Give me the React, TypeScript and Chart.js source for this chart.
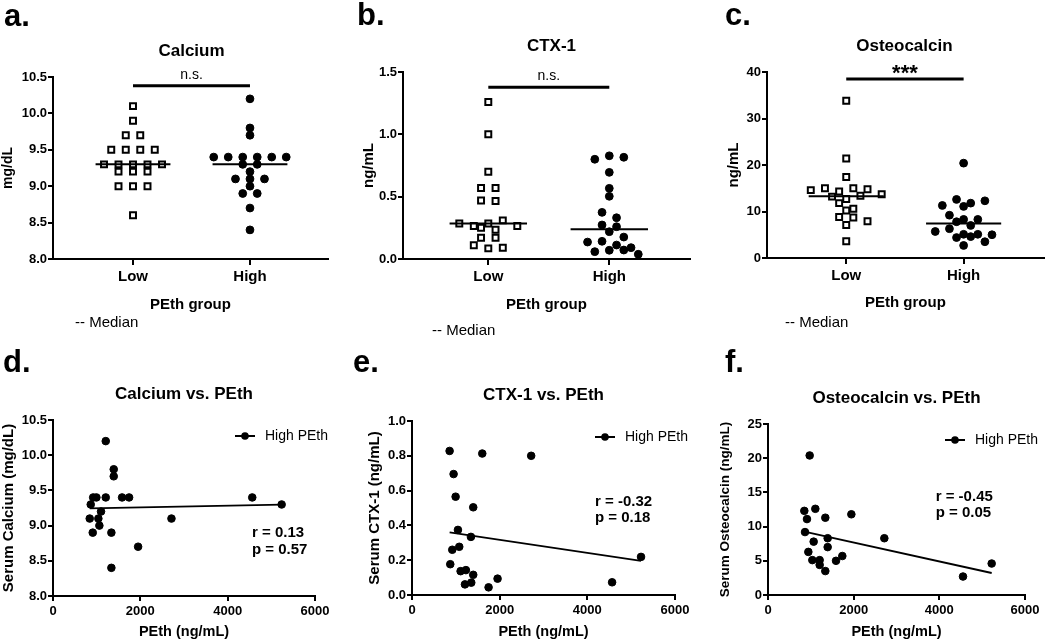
import React, { useEffect, useRef } from "react";
import { Chart, registerables } from "chart.js";

Chart.register(...registerables);

const FONT = "'Liberation Sans', Arial, Helvetica, sans-serif";
Chart.defaults.font.family = FONT;
Chart.defaults.color = "#000";

// ---------------- data ----------------
const groupLabels = ["Low", "High"];
const groupAxisTitle = "PEth group";
const medianNote = "-- Median";
const legendLabel = "High PEth";
const pethAxisTitle = "PEth (ng/mL)";

// a. Calcium (mg/dL) by PEth group
const calciumLow = [10.1, 9.9, 9.7, 9.7, 9.5, 9.5, 9.5, 9.5, 9.3, 9.3, 9.3, 9.3, 9.3, 9.2, 9.2, 9.2, 9.0, 9.0, 9.0, 8.6];
const calciumHigh = [10.2, 9.8, 9.7, 9.4, 9.4, 9.4, 9.4, 9.4, 9.4, 9.3, 9.3, 9.2, 9.1, 9.1, 9.1, 9.0, 8.9, 8.9, 8.7, 8.4];
// b. CTX-1 (ng/mL) by PEth group
const ctx1Low = [1.26, 1.0, 0.7, 0.57, 0.57, 0.47, 0.465, 0.25, 0.285, 0.265, 0.285, 0.31, 0.235, 0.265, 0.17, 0.17, 0.11, 0.085, 0.09];
const ctx1High = [0.8, 0.828, 0.816, 0.695, 0.567, 0.503, 0.374, 0.331, 0.273, 0.259, 0.219, 0.176, 0.136, 0.142, 0.112, 0.059, 0.091, 0.07, 0.072, 0.038];
// c. Osteocalcin (ng/mL) by PEth group
const osteoLow = [33.8, 21.4, 17.4, 14.6, 15.0, 14.3, 15.0, 14.8, 13.2, 13.7, 12.7, 13.4, 11.8, 10.6, 10.2, 8.8, 8.7, 7.9, 7.1, 3.6];
const osteoHigh = [20.4, 11.3, 12.6, 11.8, 12.3, 11.1, 9.2, 8.3, 7.8, 8.3, 7.0, 5.7, 6.3, 5.1, 5.1, 5.0, 4.4, 4.6, 3.5, 2.7];

// d. Calcium vs PEth (high PEth group)
const dPEth = [1208, 1391, 1391, 920, 994, 1208, 1582, 1743, 4563, 864, 5236, 1100, 841, 1039, 2713, 1062, 910, 1337, 1949, 1337];
const dCalcium = [10.2, 9.8, 9.7, 9.4, 9.4, 9.4, 9.4, 9.4, 9.4, 9.3, 9.3, 9.2, 9.1, 9.1, 9.1, 9.0, 8.9, 8.9, 8.7, 8.4];
// e. CTX-1 vs PEth
const ePEth = [858, 1603, 2719, 949, 995, 1397, 1048, 1344, 919, 1078, 5225, 873, 1109, 1230, 1397, 1208, 1352, 1952, 1747, 4565];
const eCTX1 = [0.828, 0.813, 0.8, 0.695, 0.565, 0.504, 0.374, 0.334, 0.26, 0.277, 0.219, 0.177, 0.137, 0.143, 0.116, 0.061, 0.071, 0.094, 0.044, 0.073];
// f. Osteocalcin vs PEth
const fPEth = [973, 848, 1105, 910, 1338, 1946, 864, 2716, 1393, 1066, 1393, 942, 1735, 1035, 1206, 1588, 1206, 5222, 1338, 4553];
const fOsteo = [20.4, 12.3, 12.6, 11.1, 11.3, 11.8, 9.2, 8.3, 8.3, 7.8, 7.0, 6.3, 5.7, 5.1, 5.1, 5.0, 4.4, 4.6, 3.5, 2.7];

// statistics text
const sigLabels = ["n.s.", "n.s.", "***"];
const sigLevels = [10.38, 1.377, 38.5];
const corrR = ["r = 0.13", "r = -0.32", "r = -0.45"];
const corrP = ["p = 0.57", "p = 0.18", "p = 0.05"];

// ---------------- helpers ----------------
function median(v: number[]) {
  const s = [...v].sort((a, b) => a - b);
  const n = s.length;
  return n % 2 ? s[(n - 1) / 2] : (s[n / 2 - 1] + s[n / 2]) / 2;
}

function fitLine(xs: number[], ys: number[]) {
  const n = xs.length;
  const mx = xs.reduce((a, b) => a + b, 0) / n;
  const my = ys.reduce((a, b) => a + b, 0) / n;
  let sxy = 0, sxx = 0;
  for (let i = 0; i < n; i++) {
    sxy += (xs[i] - mx) * (ys[i] - my);
    sxx += (xs[i] - mx) * (xs[i] - mx);
  }
  const m = sxy / sxx;
  const b = my - m * mx;
  const x0 = Math.min(...xs), x1 = Math.max(...xs);
  return [{ x: x0, y: b + m * x0 }, { x: x1, y: b + m * x1 }];
}

// scatter-dot-plot (column) spreading: rows of near-equal values spread symmetrically
function swarmX(values: number[], center: number, xPx: number, yPx: number, slot = 14.5, dot = 7, rowGap = 6.5) {
  const order = values.map((v, i) => ({ v, i })).sort((p, q) => q.v - p.v || p.i - q.i);
  const placed: { x: number; y: number }[] = [];
  const out = new Array(values.length).fill(center);
  let k = 0;
  while (k < order.length) {
    const row = [order[k]];
    let j = k + 1;
    while (j < order.length && (order[k].v - order[j].v) * yPx < rowGap) {
      row.push(order[j]);
      j++;
    }
    row.sort((p, q) => p.i - q.i);
    const n = row.length;
    const shifts = [0, 0.5, -0.5, 1, -1, 1.5, -1.5, 2, -2];
    let chosen = 0;
    for (const s of shifts) {
      const ok = row.every((p, m) => {
        const x = (m - (n - 1) / 2 + s) * slot;
        const y = p.v * yPx;
        return placed.every((q) => Math.hypot(q.x - x, q.y - y) >= dot);
      });
      if (ok) { chosen = s; break; }
    }
    row.forEach((p, m) => {
      const x = (m - (n - 1) / 2 + chosen) * slot;
      placed.push({ x, y: p.v * yPx });
      out[p.i] = center + x / xPx;
    });
    k = j;
  }
  return out;
}

// ---------------- layout ----------------
type Area = { l: number; t: number; r: number; b: number };

const groupPanels = [
  {
    letter: "a.", letterX: 4, letterY: 26, title: "Calcium", titleDx: 1,
    left: 0, top: 0, width: 350, height: 340, area: { l: 53, t: 77, r: 328, b: 259 } as Area,
    xMin: 0.316, xMax: 2.667, xH: 55,
    yMin: 8, yMax: 10.5, yStep: 0.5, yDec: 1, yTitle: "mg/dL", yTitleSize: 14, yTitleX: 7.5,
    low: calciumLow, high: calciumHigh, sig: 0, noteX: 75, noteY: 327,
  },
  {
    letter: "b.", letterX: 357, letterY: 25, title: "CTX-1", titleDx: 5,
    left: 350, top: 0, width: 362, height: 340, area: { l: 403, t: 72, r: 690, b: 259 } as Area,
    xMin: 0.295, xMax: 2.667, xH: 55,
    yMin: 0, yMax: 1.5, yStep: 0.5, yDec: 1, yTitle: "ng/mL", yTitleSize: 15, yTitleX: 369,
    low: ctx1Low, high: ctx1High, sig: 1, noteX: 432, noteY: 335,
  },
  {
    letter: "c.", letterX: 725, letterY: 25, title: "Osteocalcin", titleDx: -1,
    left: 712, top: 0, width: 338, height: 340, area: { l: 767, t: 72, r: 1050, b: 258 } as Area,
    xMin: 0.325, xMax: 2.683, xH: 54,
    yMin: 0, yMax: 40, yStep: 10, yDec: 0, yTitle: "ng/mL", yTitleSize: 15, yTitleX: 734,
    low: osteoLow, high: osteoHigh, sig: 2, noteX: 785, noteY: 327,
  },
];

const corrPanels = [
  {
    letter: "d.", letterX: 3, letterY: 372, title: "Calcium vs. PEth",
    left: 0, top: 340, width: 350, height: 301, area: { l: 53, t: 420, r: 315, b: 596 } as Area, xH: 45,
    yMin: 8, yMax: 10.5, yStep: 0.5, yDec: 1, yTitle: "Serum Calcium (mg/dL)", yTitleSize: 15, yTitleX: 9,
    xs: dPEth, ys: dCalcium, stat: 0, statX: 4557, statY: [8.895, 8.65],
  },
  {
    letter: "e.", letterX: 353, letterY: 372, title: "CTX-1 vs. PEth",
    left: 350, top: 340, width: 362, height: 301, area: { l: 412, t: 421, r: 675, b: 595 } as Area, xH: 46,
    yMin: 0, yMax: 1, yStep: 0.2, yDec: 1, yTitle: "Serum CTX-1 (ng/mL)", yTitleSize: 15, yTitleX: 375,
    xs: ePEth, ys: eCTX1, stat: 1, statX: 4175, statY: [0.536, 0.441],
  },
  {
    letter: "f.", letterX: 725, letterY: 372, title: "Osteocalcin vs. PEth",
    left: 712, top: 340, width: 338, height: 301, area: { l: 768, t: 424, r: 1025, b: 595 } as Area, xH: 46,
    yMin: 0, yMax: 25, yStep: 5, yDec: 0, yTitle: "Serum Osteocalcin (ng/mL)", yTitleSize: 13.5, yTitleX: 725,
    xs: fPEth, ys: fOsteo, stat: 2, statX: 3915, statY: [14.37, 11.94],
  },
];

const axisCommon = () => ({
  border: { display: true, color: "#000", width: 2 },
});

function yScale(p: any) {
  const lh = p.yTitleSize * 1.2;
  return {
    type: "linear",
    min: p.yMin,
    max: p.yMax,
    ...axisCommon(),
    grid: { display: true, drawOnChartArea: false, drawTicks: true, tickLength: 5, color: "#000", lineWidth: 2 },
    ticks: {
      stepSize: p.yStep,
      padding: 1,
      color: "#000",
      font: { family: FONT, size: 13, weight: "bold" },
      callback: (v: any) => Number(v).toFixed(p.yDec),
    },
    title: {
      display: true,
      text: p.yTitle,
      color: "#000",
      font: { family: FONT, size: p.yTitleSize, weight: "bold" },
      padding: { top: Math.max(0, p.yTitleX - p.left - lh / 2), bottom: 0 },
    },
    afterFit: (s: any) => { s.width = p.area.l - p.left; },
  };
}

function layoutPadding(p: any) {
  return {
    left: 0,
    top: p.area.t - p.top,
    right: p.left + p.width - p.area.r,
    bottom: p.top + p.height - p.area.b - p.xH,
  };
}

function textFont(size: number, bold: boolean) {
  return `${bold ? "bold " : ""}${size}px ${FONT}`;
}

function groupConfig(p: any) {
  const xPx = (p.area.r - p.area.l) / (p.xMax - p.xMin);
  const yPx = (p.area.b - p.area.t) / (p.yMax - p.yMin);
  const lowX = swarmX(p.low, 1, xPx, yPx);
  const highX = swarmX(p.high, 2, xPx, yPx);
  const mLow = median(p.low);
  const mHigh = median(p.high);
  const half = 0.32;
  const lineDs = (data: any[], w: number) => ({
    data, showLine: true, pointRadius: 0, borderColor: "#000", borderWidth: w, backgroundColor: "#000",
  });
  const sigText = sigLabels[p.sig];
  const sigLevel = sigLevels[p.sig];

  const decor = {
    id: "decor",
    afterDraw(chart: any) {
      const c = chart.ctx;
      const ca = chart.chartArea;
      const xs = chart.scales.x;
      const ys = chart.scales.y;
      c.save();
      c.fillStyle = "#000";
      c.textAlign = "left";
      c.textBaseline = "alphabetic";
      c.font = textFont(31, true);
      c.fillText(p.letter, p.letterX - p.left, p.letterY - p.top);
      c.textAlign = "center";
      c.font = textFont(17, true);
      c.fillText(p.title, (ca.left + ca.right) / 2 + p.titleDx, ca.top - 21);
      const by = ys.getPixelForValue(sigLevel);
      const bold = sigText === "***";
      c.font = bold ? textFont(22, true) : textFont(14, false);
      c.fillText(sigText, xs.getPixelForValue(1.5), bold ? by + 1 : by - 7);
      c.textAlign = "left";
      c.font = textFont(15, false);
      c.fillText(medianNote, p.noteX - p.left, p.noteY - p.top);
      c.restore();
    },
  };

  return {
    type: "scatter",
    data: {
      datasets: [
        lineDs([{ x: 1 - half, y: mLow }, { x: 1 + half, y: mLow }], 2),
        lineDs([{ x: 2 - half, y: mHigh }, { x: 2 + half, y: mHigh }], 2),
        lineDs([{ x: 1, y: sigLevel }, { x: 2, y: sigLevel }], 3),
        {
          data: p.low.map((v: number, i: number) => ({ x: lowX[i], y: v })),
          pointStyle: "rect", pointRadius: 4.2, pointBorderWidth: 2,
          pointBackgroundColor: "#fff", pointBorderColor: "#000", showLine: false,
        },
        {
          data: p.high.map((v: number, i: number) => ({ x: highX[i], y: v })),
          pointStyle: "circle", pointRadius: 3.9, pointBorderWidth: 1,
          pointBackgroundColor: "#000", pointBorderColor: "#000", showLine: false,
        },
      ],
    },
    options: {
      responsive: false,
      animation: false,
      devicePixelRatio: 1,
      events: [],
      layout: { padding: layoutPadding(p) },
      plugins: { legend: { display: false }, tooltip: { enabled: false }, title: { display: false } },
      scales: {
        x: {
          type: "linear",
          min: p.xMin,
          max: p.xMax,
          ...axisCommon(),
          grid: { display: true, drawOnChartArea: false, drawTicks: true, tickLength: 6, color: "#000", lineWidth: 2 },
          ticks: {
            padding: 3,
            maxRotation: 0,
            autoSkip: false,
            color: "#000",
            font: { family: FONT, size: 15, weight: "bold" },
            callback: (v: any) => groupLabels[Math.round(v) - 1] ?? "",
          },
          afterBuildTicks: (s: any) => { s.ticks = [{ value: 1 }, { value: 2 }]; },
          title: {
            display: true, text: groupAxisTitle, color: "#000",
            font: { family: FONT, size: 15, weight: "bold" }, padding: 0,
          },
          afterFit: (s: any) => { s.height = p.xH; },
        },
        y: yScale(p),
      },
    },
    plugins: [decor],
  };
}

function corrConfig(p: any) {
  const pts = p.xs.map((x: number, i: number) => ({ x, y: p.ys[i] }));
  const fit = fitLine(p.xs, p.ys);
  const decor = {
    id: "decor",
    afterDraw(chart: any) {
      const c = chart.ctx;
      const ca = chart.chartArea;
      const xs = chart.scales.x;
      const ys = chart.scales.y;
      c.save();
      c.fillStyle = "#000";
      c.strokeStyle = "#000";
      c.textAlign = "left";
      c.textBaseline = "alphabetic";
      c.font = textFont(31, true);
      c.fillText(p.letter, p.letterX - p.left, p.letterY - p.top);
      c.textAlign = "center";
      c.font = textFont(17, true);
      c.fillText(p.title, (ca.left + ca.right) / 2, ca.top - 21);
      // legend
      const lx = ca.right - 80;
      const ly = ca.top + 16;
      c.lineWidth = 2;
      c.beginPath();
      c.moveTo(lx, ly);
      c.lineTo(lx + 20, ly);
      c.stroke();
      c.beginPath();
      c.arc(lx + 10, ly, 3.8, 0, Math.PI * 2);
      c.fill();
      c.textAlign = "left";
      c.textBaseline = "middle";
      c.font = textFont(14, false);
      c.fillText(legendLabel, lx + 30, ly);
      // stats
      c.font = textFont(15, true);
      const sx = xs.getPixelForValue(p.statX);
      c.fillText(corrR[p.stat], sx, ys.getPixelForValue(p.statY[0]));
      c.fillText(corrP[p.stat], sx, ys.getPixelForValue(p.statY[1]));
      c.restore();
    },
  };
  return {
    type: "scatter",
    data: {
      datasets: [
        { data: fit, showLine: true, pointRadius: 0, borderColor: "#000", borderWidth: 1.8 },
        {
          data: pts, pointStyle: "circle", pointRadius: 3.8, pointBorderWidth: 1,
          pointBackgroundColor: "#000", pointBorderColor: "#000", showLine: false,
        },
      ],
    },
    options: {
      responsive: false,
      animation: false,
      devicePixelRatio: 1,
      events: [],
      layout: { padding: layoutPadding(p) },
      plugins: { legend: { display: false }, tooltip: { enabled: false }, title: { display: false } },
      scales: {
        x: {
          type: "linear",
          min: 0,
          max: 6000,
          ...axisCommon(),
          grid: { display: true, drawOnChartArea: false, drawTicks: true, tickLength: 5, color: "#000", lineWidth: 2 },
          ticks: {
            stepSize: 2000,
            padding: 3,
            maxRotation: 0,
            autoSkip: false,
            color: "#000",
            font: { family: FONT, size: 13, weight: "bold" },
            callback: (v: any) => String(Math.round(Number(v))),
          },
          title: {
            display: true, text: pethAxisTitle, color: "#000",
            font: { family: FONT, size: 14.5, weight: "bold" }, padding: 0,
          },
          afterFit: (s: any) => { s.height = p.xH; },
        },
        y: yScale(p),
      },
    },
    plugins: [decor],
  };
}

function Panel({ spec, kind }: { spec: any; kind: "group" | "corr" }) {
  const ref = useRef<HTMLCanvasElement>(null);
  useEffect(() => {
    const cfg: any = kind === "group" ? groupConfig(spec) : corrConfig(spec);
    const chart = new Chart(ref.current as HTMLCanvasElement, cfg);
    return () => chart.destroy();
  }, []);
  return (
    <canvas
      ref={ref}
      width={spec.width}
      height={spec.height}
      style={{ position: "absolute", left: spec.left, top: spec.top, width: spec.width, height: spec.height }}
    />
  );
}

export default function App() {
  return (
    <div style={{ position: "fixed", left: 0, top: 0, width: 1050, height: 641, background: "#fff", overflow: "hidden" }}>
      {groupPanels.map((p, i) => (
        <Panel key={"g" + i} spec={p} kind="group" />
      ))}
      {corrPanels.map((p, i) => (
        <Panel key={"c" + i} spec={p} kind="corr" />
      ))}
    </div>
  );
}
